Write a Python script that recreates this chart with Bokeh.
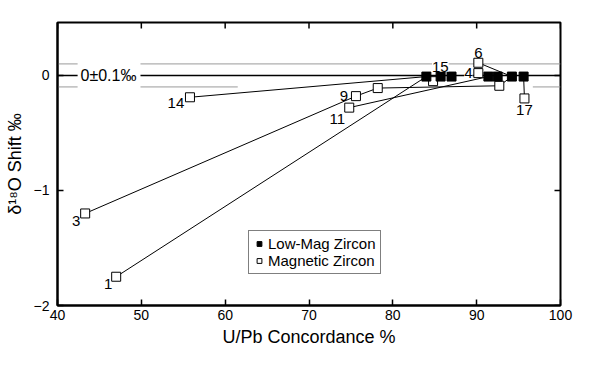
import math
from bokeh.plotting import figure
from bokeh.models import (Range1d, FixedTicker, Legend, LegendItem, LabelSet,
                          Label, ColumnDataSource)
from bokeh.core.properties import value
from bokeh.embed import file_html
from bokeh.resources import INLINE

# ---------------- data ----------------
# Magnetic zircon (open squares)
mag_id = ["1", "3", "14", "9", "11", "a", "b", "4", "6", "c", "17"]
mag_x = [47.0, 43.3, 55.8, 75.6, 74.8, 78.2, 84.8, 90.2, 90.2, 92.7, 95.7]
mag_y = [-1.75, -1.20, -0.19, -0.18, -0.28, -0.11, -0.05, 0.02, 0.11, -0.09, -0.20]
mag_label = ["1", "3", "14", "9", "11", "", "", "4", "6", "", "17"]

# Low-magnetic zircon (filled squares)
low_id = ["L1", "L2", "L3", "L4", "L5", "L6", "L7"]
low_x = [84.0, 85.7, 87.0, 91.4, 92.5, 94.2, 95.6]
low_y = [-0.01, -0.01, -0.01, -0.01, -0.01, -0.01, -0.01]
low_label = ["15", "", "", "", "", "", ""]

# tie lines between fractions
tie_chains = [["1", "L1"], ["14", "L1"], ["3", "9", "a", "c", "L6"],
              ["b", "L1"], ["11", "L4"], ["6", "L6"], ["17", "L7"]]

# reference band 0 +/- 0.1 permil
band = 0.1
zero_x0 = [40.0, 49.9]
zero_x1 = [42.4, 100.0]
band_up_x0 = [40.0, 49.9]
band_up_x1 = [42.4, 100.0]
band_lo_x0 = [40.0, 49.9, 96.7]
band_lo_x1 = [42.4, 61.5, 100.0]

x_ticks = [40, 50, 60, 70, 80, 90, 100]
y_ticks = [-2, -1, 0]
x_min, x_max = 40, 100
y_min, y_max = -2, 0.46

# ---------------- figure ----------------
FONT = "Liberation Sans"
p = figure(width=590, height=360, x_range=Range1d(x_min, x_max),
           y_range=Range1d(y_min, y_max), output_backend="svg",
           toolbar_location=None, min_border_left=57, min_border_right=30,
           min_border_top=22, min_border_bottom=55)
p.grid.visible = False
p.outline_line_color = "black"
p.outline_line_width = 2
p.background_fill_color = "white"
p.border_fill_color = "white"

for ax in (p.xaxis[0], p.yaxis[0]):
    ax.axis_line_width = 2
    ax.axis_line_color = "black"
    ax.major_tick_in = 6
    ax.major_tick_out = 0
    ax.major_tick_line_width = 1.5
    ax.major_tick_line_color = "black"
    ax.minor_tick_line_color = None
    ax.major_label_text_font = FONT
    ax.major_label_text_font_size = "14px"
    ax.major_label_text_color = "black"
    ax.axis_label_text_font = FONT
    ax.axis_label_text_font_size = "18px"
    ax.axis_label_text_font_style = "normal"
    ax.axis_label_text_color = "black"

p.xaxis.ticker = FixedTicker(ticks=x_ticks)
p.yaxis.ticker = FixedTicker(ticks=y_ticks)
p.xaxis.axis_label = "U/Pb Concordance %"
p.yaxis.axis_label = "δ¹⁸O Shift ‰"
p.xaxis.major_label_standoff = 4
p.xaxis.axis_label_standoff = 4
p.yaxis.major_label_standoff = 8
p.yaxis.axis_label_standoff = 6

# inner ticks on top and right edges
p.scatter(x=x_ticks, y=[y_max] * len(x_ticks), marker="dash", angle=math.pi / 2,
          size=12, line_color="black", line_width=1.5)
p.scatter(x=[x_max] * len(y_ticks), y=y_ticks, marker="dash",
          size=12, line_color="black", line_width=1.5)

# reference lines
p.segment(x0=band_up_x0, x1=band_up_x1, y0=band, y1=band, line_color="#9a9a9a", line_width=1)
p.segment(x0=band_lo_x0, x1=band_lo_x1, y0=-band, y1=-band, line_color="#9a9a9a", line_width=1)
p.segment(x0=zero_x0, x1=zero_x1, y0=0, y1=0, line_color="black", line_width=1.5)
p.add_layout(Label(x=40, y=0, x_offset=23, text="0±0.1‰", text_font=FONT,
                   text_font_size="16px", text_baseline="middle", text_align="left",
                   text_color="black"))

# tie lines
pos = {}
for i, k in enumerate(mag_id):
    pos[k] = (mag_x[i], mag_y[i])
for i, k in enumerate(low_id):
    pos[k] = (low_x[i], low_y[i])
xs = [[pos[k][0] for k in ch] for ch in tie_chains]
ys = [[pos[k][1] for k in ch] for ch in tie_chains]
p.multi_line(xs=xs, ys=ys, line_color="black", line_width=1)

mag_r = p.scatter(x=mag_x, y=mag_y, marker="square", size=9, fill_color="white",
                  line_color="black", line_width=1)
low_r = p.scatter(x=low_x, y=low_y, marker="square", size=9, fill_color="black",
                  line_color="black", line_width=1)

# point labels
lab_x, lab_y, lab_t, lab_dx, lab_dy, lab_bg = [], [], [], [], [], []
offs = {"1": (-8, -7), "3": (-9, -8), "14": (-14, -6), "9": (-12, 0),
        "11": (-12, -11), "4": (-10, 0), "6": (0, 10), "17": (0, -12), "15": (14, 10)}
bg_labels = {"4", "15"}
for xx, yy, t in list(zip(mag_x, mag_y, mag_label)) + list(zip(low_x, low_y, low_label)):
    if t:
        lab_x.append(xx); lab_y.append(yy); lab_t.append(t)
        lab_dx.append(offs[t][0]); lab_dy.append(offs[t][1])
        lab_bg.append(t in bg_labels)

def make_src(flag):
    idx = [i for i in range(len(lab_t)) if lab_bg[i] == flag]
    return ColumnDataSource(dict(x=[lab_x[i] for i in idx], y=[lab_y[i] for i in idx],
                                 t=[lab_t[i] for i in idx], dx=[lab_dx[i] for i in idx],
                                 dy=[lab_dy[i] for i in idx]))

p.add_layout(LabelSet(x="x", y="y", text="t", x_offset="dx", y_offset="dy",
                      source=make_src(False), text_font=value(FONT),
                      text_font_size=value("15px"), text_color="black",
                      text_align="center", text_baseline="middle"))
p.add_layout(LabelSet(x="x", y="y", text="t", x_offset="dx", y_offset="dy",
                      source=make_src(True), text_font=value(FONT),
                      text_font_size=value("15px"), text_color="black",
                      text_align="center", text_baseline="middle",
                      background_fill_color="white"))

legend = Legend(items=[LegendItem(label="Low-Mag Zircon", renderers=[low_r]),
                       LegendItem(label="Magnetic Zircon", renderers=[mag_r])],
                location=(191, 31), label_text_font=FONT, label_text_font_size="15px",
                label_text_color="black",
                label_height=15, glyph_height=15, glyph_width=12, padding=4,
                spacing=0, margin=0, label_standoff=3,
                border_line_color="black", border_line_width=1,
                background_fill_alpha=1.0)
p.add_layout(legend, "center")

open("out.html", "w").write(file_html(p, INLINE))
